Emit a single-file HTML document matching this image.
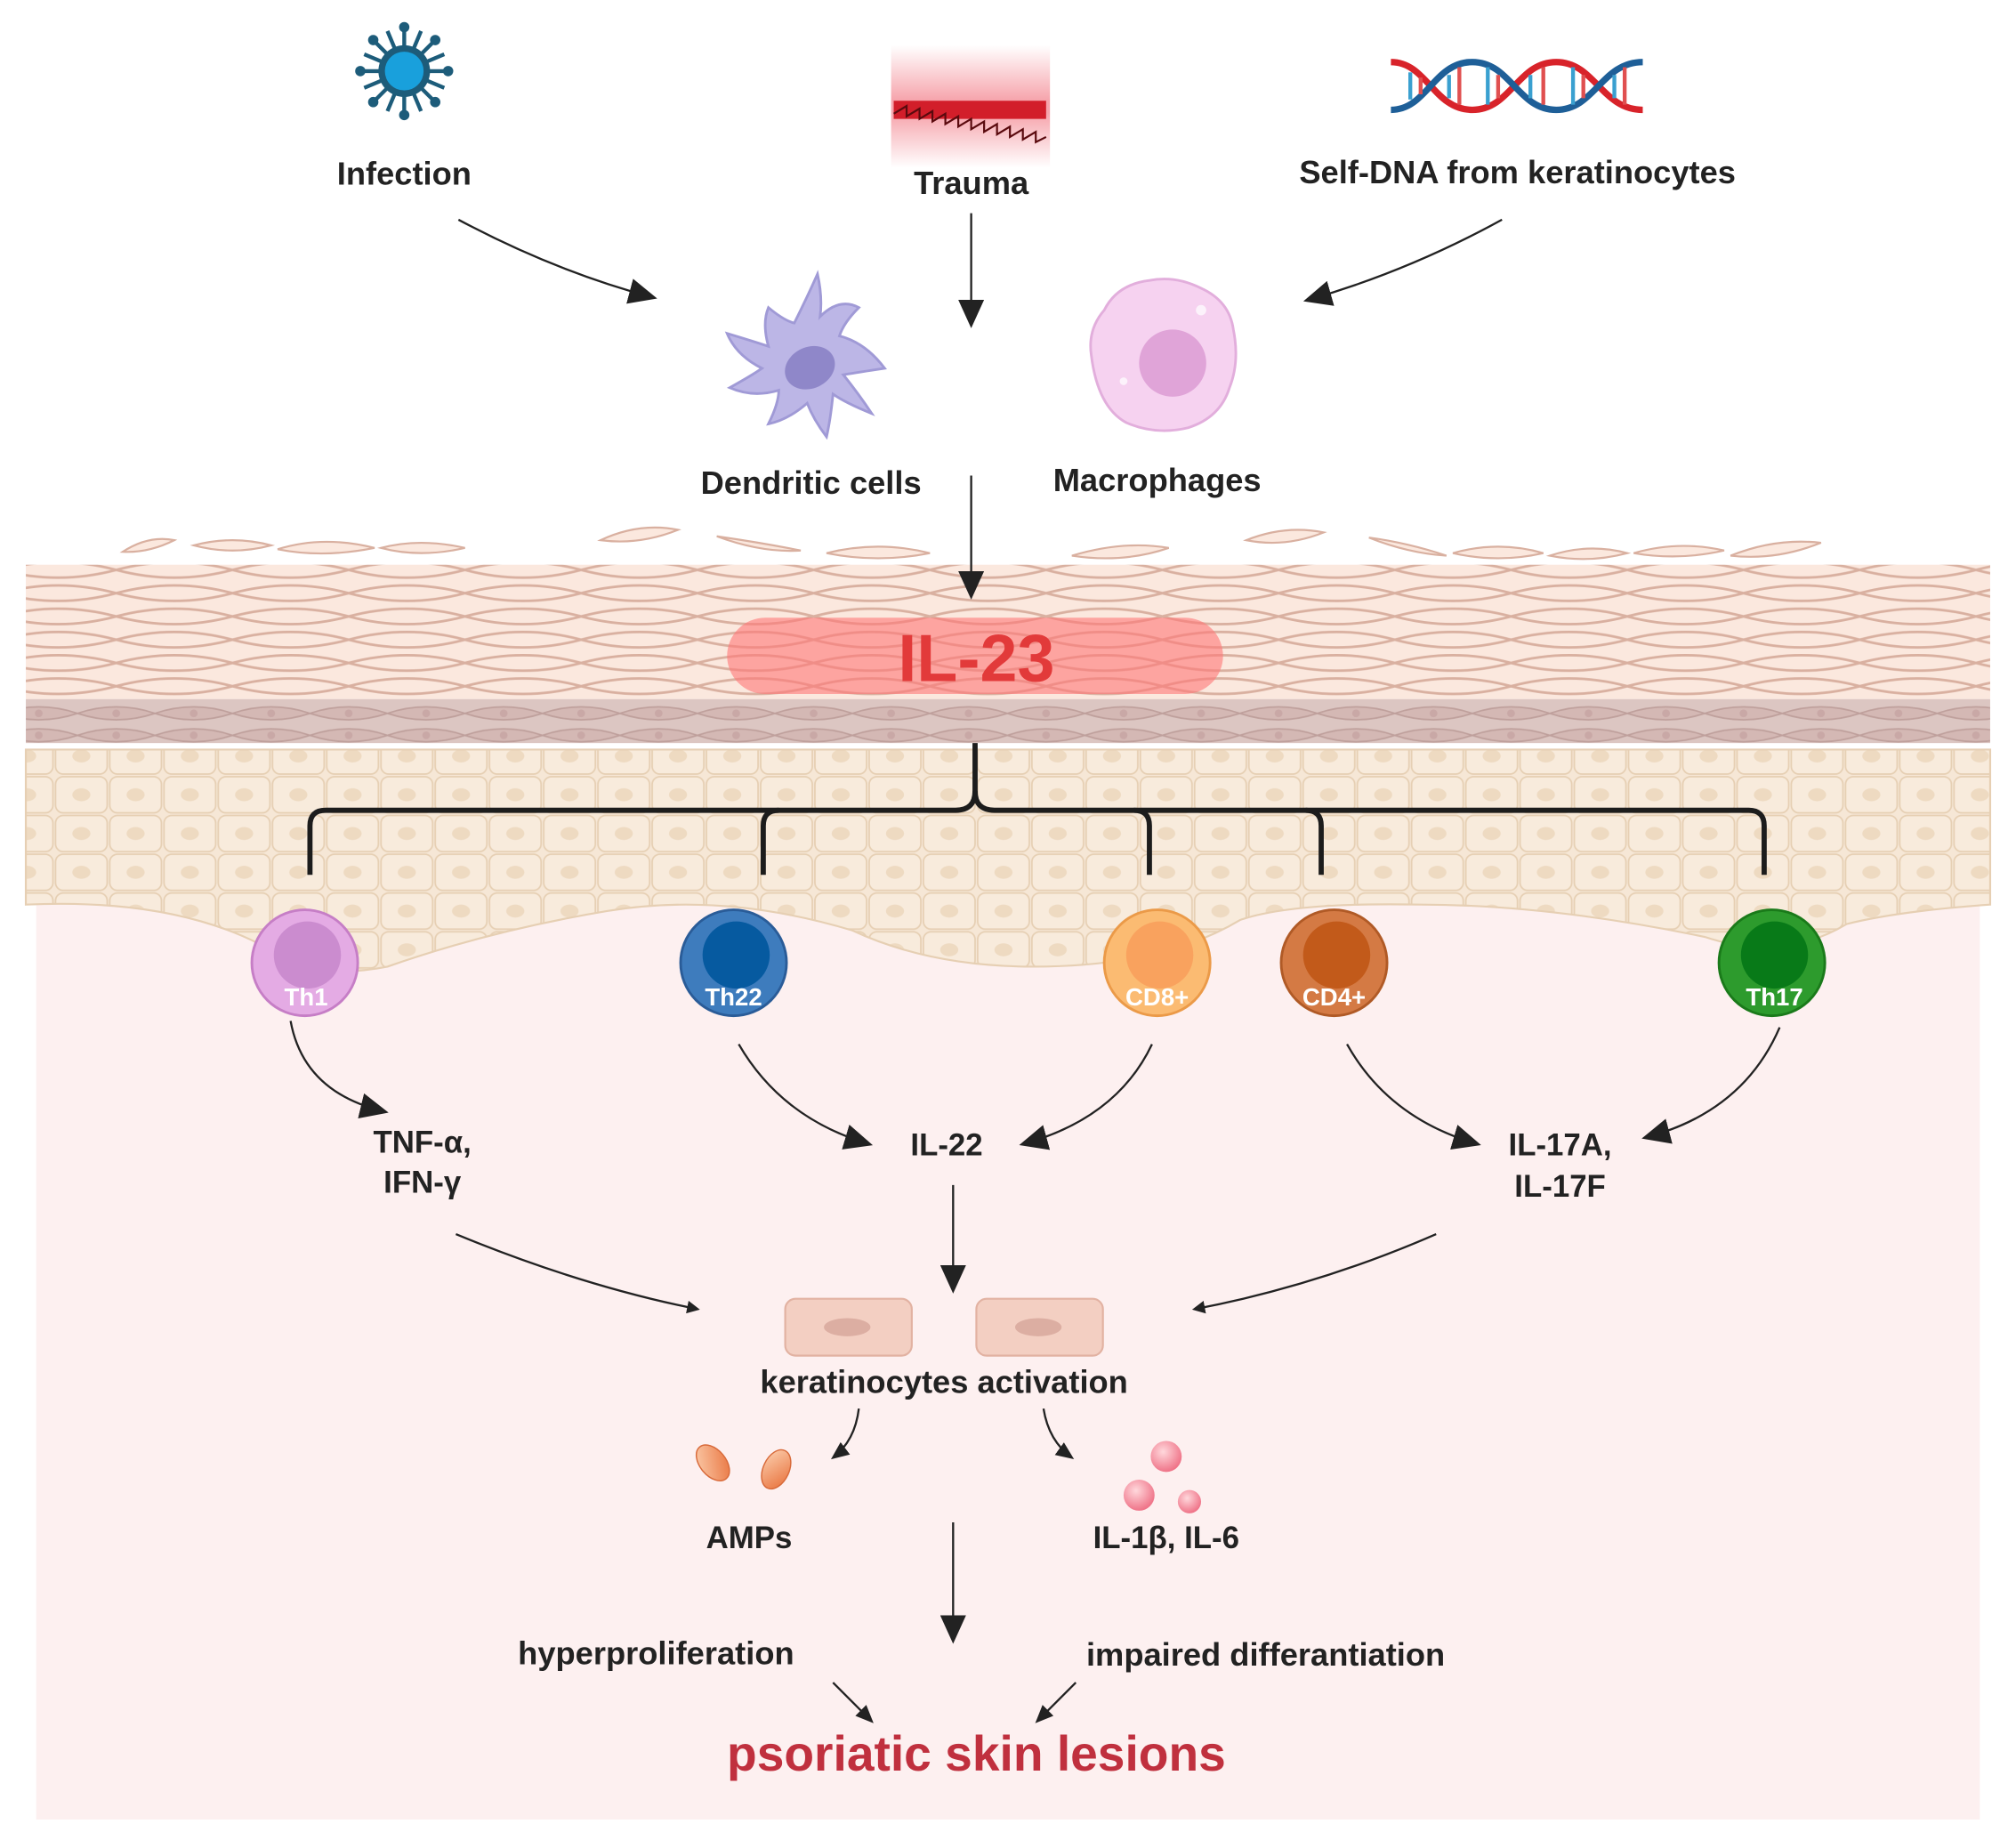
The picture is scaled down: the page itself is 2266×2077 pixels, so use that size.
<!DOCTYPE html>
<html><head><meta charset="utf-8"><style>
html,body{margin:0;padding:0;background:#fff;}
svg{display:block;}
text{font-family:"Liberation Sans",sans-serif;font-weight:bold;}
</style></head><body>
<svg width="2266" height="2077" viewBox="0 0 1561 1430" preserveAspectRatio="none" xmlns="http://www.w3.org/2000/svg">
<defs>
<marker id="ah" markerWidth="10" markerHeight="10" refX="8" refY="5" orient="auto" markerUnits="userSpaceOnUse" viewBox="0 0 10 10">
<path d="M0,0 L10,5 L0,10 Z" fill="#222"/></marker>
<marker id="ahb" markerWidth="22" markerHeight="20" refX="18" refY="10" orient="auto" markerUnits="userSpaceOnUse" viewBox="0 0 22 20">
<path d="M0,0 L22,10 L0,20 Z" fill="#222"/></marker>
<marker id="ahs" markerWidth="14" markerHeight="12" refX="12" refY="6" orient="auto" markerUnits="userSpaceOnUse" viewBox="0 0 14 12">
<path d="M0,0 L14,6 L0,12 Z" fill="#222"/></marker>
<pattern id="corn" width="90" height="18" patternUnits="userSpaceOnUse">
<rect width="90" height="18" fill="#fbe8de"/>
<path d="M0,9 Q45,-3 90,9 Q45,21 0,9Z" fill="none" stroke="#d9b0a0" stroke-width="2"/>
</pattern>
<pattern id="gran" width="60" height="17" patternUnits="userSpaceOnUse">
<rect width="60" height="17" fill="#dcc6c2"/>
<path d="M0,8 Q30,-2 60,8 Q30,18 0,8Z" fill="#d4b8b4" stroke="#bfa09c" stroke-width="1.2"/>
<circle cx="30" cy="8" r="3" fill="#c9a8a6"/>
</pattern>
<pattern id="ker" width="42" height="30" patternUnits="userSpaceOnUse">
<rect width="42" height="30" fill="#f6e7d6"/>
<rect x="1" y="1" width="40" height="28" rx="6" fill="#f8ebdc" stroke="#e6cfb3" stroke-width="1.2"/>
<ellipse cx="21" cy="15" rx="7" ry="5" fill="#eedac1"/>
</pattern>
<linearGradient id="tr" x1="0" y1="0" x2="0" y2="1">
<stop offset="0" stop-color="#fff"/><stop offset="0.45" stop-color="#f6a4ac"/><stop offset="0.55" stop-color="#f6a4ac"/><stop offset="1" stop-color="#fff"/></linearGradient>
<linearGradient id="amp" x1="0" y1="0" x2="1" y2="1"><stop offset="0" stop-color="#fcd0b0"/><stop offset="1" stop-color="#e8703a"/></linearGradient>
<radialGradient id="sph" cx="0.4" cy="0.35" r="0.7"><stop offset="0" stop-color="#ffd8dc"/><stop offset="1" stop-color="#ee6c82"/></radialGradient>
</defs>

<rect x="28" y="640" width="1505" height="768" fill="#fdf0f0"/>
<g fill="#fbe8de" stroke="#d9b0a0" stroke-width="1.5">
<path d="M95,427 Q115,414 135,418 Q115,428 95,427Z"/><path d="M150,422 Q180,414 210,422 Q180,430 150,422Z"/>
<path d="M215,425 Q250,414 290,424 Q250,432 215,425Z"/><path d="M295,424 Q325,416 360,424 Q325,432 295,424Z"/>
<path d="M465,418 Q495,404 525,410 Q495,422 465,418Z"/><path d="M555,415 Q590,428 620,426 Q590,420 555,415Z"/>
<path d="M640,428 Q680,418 720,428 Q680,436 640,428Z"/><path d="M830,430 Q870,418 905,424 Q870,436 830,430Z"/>
<path d="M965,418 Q995,406 1025,412 Q995,424 965,418Z"/><path d="M1060,416 Q1090,428 1120,430 Q1090,420 1060,416Z"/>
<path d="M1125,428 Q1160,418 1195,428 Q1160,436 1125,428Z"/><path d="M1200,430 Q1230,420 1260,428 Q1230,436 1200,430Z"/>
<path d="M1265,428 Q1300,418 1335,426 Q1300,434 1265,428Z"/><path d="M1340,430 Q1375,416 1410,420 Q1375,434 1340,430Z"/>
</g>
<rect x="20" y="437" width="1521" height="104" fill="url(#corn)"/>
<rect x="20" y="541" width="1521" height="34" fill="url(#gran)"/>
<path d="M20,580 L1541,580 L1541,700 Q1470,705 1430,715 Q1380,745 1320,725 Q1200,700 1100,700 Q1000,698 960,712 Q900,748 800,748 Q720,748 660,720 Q560,690 470,705 Q380,720 300,748 Q240,760 200,730 Q130,695 20,700 Z" fill="url(#ker)" stroke="#e6cfb3" stroke-width="1.5"/>

<rect x="563" y="478" width="384" height="59" rx="29.5" fill="#f77" fill-opacity="0.6"/>
<text x="756" y="527" font-size="52" fill="#e23a3a" text-anchor="middle">IL-23</text>

<g fill="none" stroke="#1c1c1c" stroke-width="4">
<path d="M755,575 L755,612 Q755,627 740,627 L252,627 Q240,627 240,639 L240,677"/>
<path d="M755,612 Q755,627 770,627 L1354,627 Q1366,627 1366,639 L1366,677"/>
<path d="M591,677 L591,639 Q591,627 603,627"/>
<path d="M878,627 Q890,627 890,639 L890,677"/>
<path d="M1011,627 Q1023,627 1023,639 L1023,677"/>
</g>

<g transform="translate(313,55)">
<g stroke="#1d5c7a" stroke-width="3">
<line x1="0" y1="-34" x2="0" y2="34"/><line x1="-34" y1="0" x2="34" y2="0"/>
<line x1="-24" y1="-24" x2="24" y2="24"/><line x1="-24" y1="24" x2="24" y2="-24"/>
<line x1="-13" y1="-31" x2="13" y2="31"/><line x1="-31" y1="-13" x2="31" y2="13"/>
<line x1="-13" y1="31" x2="13" y2="-31"/><line x1="-31" y1="13" x2="31" y2="-13"/>
</g>
<g fill="#1d5c7a"><circle cx="0" cy="-34" r="4"/><circle cx="0" cy="34" r="4"/><circle cx="-34" cy="0" r="4"/><circle cx="34" cy="0" r="4"/>
<circle cx="24" cy="24" r="4"/><circle cx="-24" cy="-24" r="4"/><circle cx="24" cy="-24" r="4"/><circle cx="-24" cy="24" r="4"/></g>
<circle r="20" fill="#1d5c7a"/><circle r="15" fill="#19a0dc"/>
</g>
<text x="313" y="143" font-size="25" fill="#222" text-anchor="middle">Infection</text>

<rect x="690" y="35" width="123" height="95" fill="url(#tr)"/>
<path d="M692,78 L810,78 L810,92 L692,92Z" fill="#d21e2a"/>
<path d="M692,88 l10,-6 l0,8 l10,-6 l0,8 l10,-6 l0,8 l10,-6 l0,8 l10,-6 l0,8 l10,-6 l0,8 l10,-6 l0,8 l10,-6 l0,8 l10,-6 l0,8 l10,-6 l0,8 l10,-6 l0,8 l8,-4" fill="none" stroke="#5a0a0e" stroke-width="1.5"/>
<text x="752" y="150" font-size="25" fill="#222" text-anchor="middle">Trauma</text>

<g fill="none" stroke-width="5">
<path d="M1077,48 C1105,48 1110,85 1140,85 C1170,85 1175,48 1205,48 C1235,48 1240,85 1272,85" stroke="#d8232a"/>
<path d="M1077,85 C1105,85 1110,48 1140,48 C1170,48 1175,85 1205,85 C1235,85 1240,48 1272,48" stroke="#1e5f98"/>
</g>
<g stroke-width="3">
<line x1="1092" y1="56" x2="1092" y2="77" stroke="#3aa0d0"/><line x1="1100" y1="60" x2="1100" y2="73" stroke="#e05050"/>
<line x1="1122" y1="58" x2="1122" y2="76" stroke="#3aa0d0"/><line x1="1130" y1="52" x2="1130" y2="81" stroke="#e05050"/>
<line x1="1152" y1="52" x2="1152" y2="81" stroke="#3aa0d0"/><line x1="1160" y1="58" x2="1160" y2="76" stroke="#e05050"/>
<line x1="1185" y1="58" x2="1185" y2="76" stroke="#3aa0d0"/><line x1="1195" y1="52" x2="1195" y2="81" stroke="#e05050"/>
<line x1="1218" y1="52" x2="1218" y2="81" stroke="#3aa0d0"/><line x1="1226" y1="58" x2="1226" y2="76" stroke="#e05050"/>
<line x1="1250" y1="58" x2="1250" y2="76" stroke="#3aa0d0"/><line x1="1258" y1="52" x2="1258" y2="81" stroke="#e05050"/>
</g>
<text x="1175" y="142" font-size="25" fill="#222" text-anchor="middle">Self-DNA from keratinocytes</text>

<g fill="none" stroke="#222" stroke-width="1.6">
<path d="M355,170 Q430,210 505,230" marker-end="url(#ahb)"/>
<path d="M752,165 L752,250" marker-end="url(#ahb)"/>
<path d="M1163,170 Q1090,210 1013,232" marker-end="url(#ahb)"/>
<path d="M752,368 L752,460" marker-end="url(#ahb)"/>
</g>

<g transform="translate(625,280)">
<path d="M-10,-30 Q0,-50 8,-68 Q12,-50 10,-35 Q25,-50 40,-42 Q28,-30 25,-20 Q45,-15 60,5 Q40,8 28,10 Q40,25 50,40 Q30,32 20,25 Q18,45 15,58 Q5,45 0,32 Q-15,45 -30,48 Q-22,32 -22,22 Q-42,28 -60,20 Q-42,10 -35,5 Q-55,-5 -62,-22 Q-42,-16 -30,-12 Q-35,-30 -30,-42 Q-18,-32 -10,-30Z" fill="#bcb6e6" stroke="#a09ad6" stroke-width="2"/>
<ellipse cx="0" cy="5" rx="20" ry="16" fill="#8f87c9" transform="rotate(-25)"/>
</g>
<text x="628" y="382" font-size="25" fill="#222" text-anchor="middle">Dendritic cells</text>

<g transform="translate(900,275)">
<path d="M-55,0 Q-58,-20 -45,-35 Q-35,-55 -10,-58 Q10,-62 30,-52 Q52,-42 55,-20 Q60,5 52,25 Q45,48 20,56 Q-5,62 -28,52 Q-50,40 -55,0Z" fill="#f6d2f0" stroke="#e2aedc" stroke-width="2"/>
<circle cx="8" cy="6" r="26" fill="#e0a4d8"/>
<circle cx="30" cy="-35" r="4" fill="#fff" opacity="0.7"/><circle cx="-30" cy="20" r="3" fill="#fff" opacity="0.7"/>
</g>
<text x="896" y="380" font-size="25" fill="#222" text-anchor="middle">Macrophages</text>

<g>
<circle cx="236" cy="745" r="41" fill="#e4abe4" stroke="#c67ec6" stroke-width="2"/><circle cx="238" cy="739" r="26" fill="#cb8ccf"/>
<text x="237" y="778" font-size="19" fill="#fff" text-anchor="middle">Th1</text>
<circle cx="568" cy="745" r="41" fill="#3e7cbd" stroke="#2a5c98" stroke-width="2"/><circle cx="570" cy="739" r="26" fill="#065aa0"/>
<text x="568" y="778" font-size="19" fill="#fff" text-anchor="middle">Th22</text>
<circle cx="896" cy="745" r="41" fill="#fbbb72" stroke="#eb9a48" stroke-width="2"/><circle cx="898" cy="739" r="26" fill="#f9a25e"/>
<text x="896" y="778" font-size="19" fill="#fff" text-anchor="middle">CD8+</text>
<circle cx="1033" cy="745" r="41" fill="#d47a44" stroke="#b05a26" stroke-width="2"/><circle cx="1035" cy="739" r="26" fill="#c25a1a"/>
<text x="1033" y="778" font-size="19" fill="#fff" text-anchor="middle">CD4+</text>
<circle cx="1372" cy="745" r="41" fill="#2d9b2d" stroke="#1a7a1a" stroke-width="2"/><circle cx="1374" cy="739" r="26" fill="#087a18"/>
<text x="1374" y="778" font-size="19" fill="#fff" text-anchor="middle">Th17</text>
</g>

<g fill="none" stroke="#222" stroke-width="1.6">
<path d="M225,790 Q235,845 297,860" marker-end="url(#ahb)"/>
<path d="M572,808 Q605,865 672,885" marker-end="url(#ahb)"/>
<path d="M892,808 Q865,865 793,885" marker-end="url(#ahb)"/>
<path d="M1043,808 Q1075,865 1143,885" marker-end="url(#ahb)"/>
<path d="M1378,795 Q1350,860 1275,880" marker-end="url(#ahb)"/>
<path d="M738,917 L738,997" marker-end="url(#ahb)"/>
<path d="M353,955 Q450,995 540,1013" marker-end="url(#ah)"/>
<path d="M1112,955 Q1020,995 925,1013" marker-end="url(#ah)"/>
<path d="M665,1090 Q662,1115 645,1128" marker-end="url(#ahs)"/>
<path d="M808,1090 Q812,1115 830,1128" marker-end="url(#ahs)"/>
<path d="M738,1178 L738,1268" marker-end="url(#ahb)"/>
<path d="M645,1302 L675,1332" marker-end="url(#ahs)"/>
<path d="M833,1302 L803,1332" marker-end="url(#ahs)"/>
</g>

<text x="327" y="892" font-size="24" fill="#222" text-anchor="middle">TNF-α,</text>
<text x="327" y="923" font-size="24" fill="#222" text-anchor="middle">IFN-γ</text>
<text x="733" y="894" font-size="24" fill="#222" text-anchor="middle">IL-22</text>
<text x="1208" y="894" font-size="24" fill="#222" text-anchor="middle">IL-17A,</text>
<text x="1208" y="926" font-size="24" fill="#222" text-anchor="middle">IL-17F</text>

<rect x="608" y="1005" width="98" height="44" rx="8" fill="#f3cfc2" stroke="#e2b2a2" stroke-width="1.5"/>
<ellipse cx="656" cy="1027" rx="18" ry="7" fill="#dcaea2"/>
<rect x="756" y="1005" width="98" height="44" rx="8" fill="#f3cfc2" stroke="#e2b2a2" stroke-width="1.5"/>
<ellipse cx="804" cy="1027" rx="18" ry="7" fill="#dcaea2"/>
<text x="731" y="1078" font-size="25" fill="#222" text-anchor="middle">keratinocytes activation</text>

<ellipse cx="552" cy="1132" rx="10" ry="16" fill="url(#amp)" stroke="#d86a3a" transform="rotate(-40 552 1132)"/>
<ellipse cx="601" cy="1137" rx="10" ry="16" fill="url(#amp)" stroke="#d86a3a" transform="rotate(25 601 1137)"/>
<text x="580" y="1198" font-size="24" fill="#222" text-anchor="middle">AMPs</text>
<circle cx="903" cy="1127" r="12" fill="url(#sph)"/>
<circle cx="882" cy="1157" r="12" fill="url(#sph)"/>
<circle cx="921" cy="1162" r="9" fill="url(#sph)"/>
<text x="903" y="1198" font-size="24" fill="#222" text-anchor="middle">IL-1β, IL-6</text>

<text x="508" y="1288" font-size="25" fill="#222" text-anchor="middle">hyperproliferation</text>
<text x="980" y="1289" font-size="25" fill="#222" text-anchor="middle">impaired differantiation</text>
<text x="756" y="1370" font-size="38" fill="#c0303e" text-anchor="middle">psoriatic skin lesions</text>
</svg>
</body></html>
